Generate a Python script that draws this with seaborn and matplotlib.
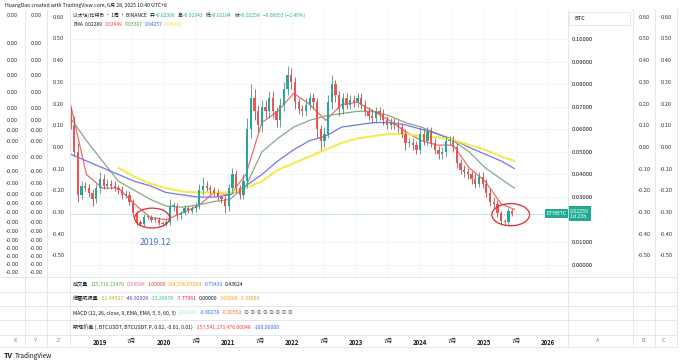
import numpy as np
import pandas as pd
import matplotlib.pyplot as plt
import matplotlib.dates as mdates
from matplotlib.patches import Ellipse, Rectangle
from matplotlib.lines import Line2D
from matplotlib.transforms import blended_transform_factory
import seaborn as sns

sns.set_theme(style="white")
plt.rcParams["font.family"] = ["Noto Sans CJK SC", "DejaVu Sans"]

# ---- data (ETH/BTC, weekly chart, resampled to 3-week candles) ----
candle_start = "2018-07-16"
first_open = 0.066
closes = [
    0.062, 0.050, 0.031, 0.035, 0.034, 0.032, 0.029, 0.034, 0.038, 0.035,
    0.036, 0.035, 0.034, 0.033, 0.031, 0.031, 0.028, 0.023, 0.019, 0.018,
    0.021, 0.021, 0.020, 0.020, 0.0185, 0.018, 0.019, 0.026, 0.026, 0.022,
    0.023, 0.025, 0.024, 0.025, 0.026, 0.033, 0.035, 0.034, 0.033, 0.032,
    0.030, 0.029, 0.026, 0.034, 0.040, 0.034, 0.031, 0.037, 0.060, 0.074,
    0.068, 0.062, 0.070, 0.068, 0.074, 0.068, 0.064, 0.071, 0.078, 0.084,
    0.081, 0.072, 0.069, 0.068, 0.071, 0.074, 0.072, 0.060, 0.055, 0.058,
    0.072, 0.080, 0.075, 0.069, 0.074, 0.071, 0.073, 0.072, 0.074, 0.071,
    0.068, 0.066, 0.065, 0.068, 0.067, 0.064, 0.062, 0.063, 0.062, 0.061,
    0.058, 0.054, 0.054, 0.053, 0.051, 0.058, 0.055, 0.059, 0.054, 0.051,
    0.049, 0.050, 0.055, 0.055, 0.052, 0.045, 0.042, 0.041, 0.040, 0.038,
    0.036, 0.039, 0.036, 0.032, 0.028, 0.027, 0.023, 0.0195, 0.0188, 0.0238,
    0.02259,
]
upper_wick = [
    0.004, 0.004, 0.004, 0.002, 0.0015, 0.002, 0.0015, 0.002, 0.003, 0.002,
    0.002, 0.0015, 0.002, 0.0015, 0.002, 0.002, 0.0015, 0.001, 0.001, 0.001,
    0.0015, 0.001, 0.001, 0.001, 0.001, 0.001, 0.0015, 0.003, 0.002, 0.0015,
    0.001, 0.0015, 0.001, 0.001, 0.002, 0.003, 0.004, 0.002, 0.0015, 0.0015,
    0.0015, 0.001, 0.0015, 0.002, 0.003, 0.002, 0.0015, 0.003, 0.005, 0.006,
    0.004, 0.003, 0.003, 0.003, 0.003, 0.003, 0.002, 0.003, 0.003, 0.004,
    0.003, 0.002, 0.002, 0.002, 0.003, 0.002, 0.002, 0.002, 0.002, 0.003,
    0.003, 0.004, 0.002, 0.002, 0.002, 0.002, 0.002, 0.002, 0.002, 0.002,
    0.002, 0.002, 0.003, 0.002, 0.002, 0.002, 0.002, 0.002, 0.002, 0.002,
    0.002, 0.002, 0.002, 0.002, 0.002, 0.003, 0.002, 0.002, 0.002, 0.002,
    0.0015, 0.002, 0.002, 0.002, 0.002, 0.002, 0.002, 0.002, 0.002, 0.0015,
    0.002, 0.002, 0.002, 0.002, 0.002, 0.002, 0.0015, 0.001, 0.001, 0.0015,
    0.001,
]
lower_wick = [
    0.002, 0.002, 0.003, 0.002, 0.0015, 0.002, 0.003, 0.0015, 0.002, 0.0015,
    0.0015, 0.0015, 0.0015, 0.0015, 0.002, 0.0015, 0.0015, 0.002, 0.0015, 0.001,
    0.001, 0.001, 0.001, 0.001, 0.001, 0.001, 0.001, 0.0015, 0.002, 0.002,
    0.0015, 0.001, 0.001, 0.001, 0.0015, 0.0015, 0.002, 0.0015, 0.0015, 0.0015,
    0.0015, 0.0015, 0.003, 0.002, 0.002, 0.002, 0.002, 0.002, 0.003, 0.004,
    0.004, 0.003, 0.003, 0.003, 0.003, 0.003, 0.003, 0.003, 0.003, 0.003,
    0.003, 0.003, 0.002, 0.002, 0.002, 0.002, 0.003, 0.004, 0.004, 0.003,
    0.002, 0.003, 0.003, 0.003, 0.002, 0.002, 0.002, 0.002, 0.002, 0.002,
    0.002, 0.002, 0.002, 0.002, 0.003, 0.002, 0.002, 0.002, 0.002, 0.002,
    0.002, 0.003, 0.002, 0.002, 0.002, 0.002, 0.002, 0.002, 0.002, 0.002,
    0.002, 0.002, 0.002, 0.002, 0.002, 0.002, 0.002, 0.002, 0.002, 0.002,
    0.002, 0.0015, 0.002, 0.002, 0.002, 0.002, 0.002, 0.0015, 0.001, 0.001,
    0.001,
]

# EMA lines, sampled every 13 weeks plus the last bar
ema_start = "2018-07-16"
ema_end = "2025-06-23"
ema20 = [0.071, 0.040, 0.034, 0.034, 0.027, 0.021, 0.020, 0.023, 0.026, 0.032,
         0.031, 0.040, 0.063, 0.068, 0.076, 0.071, 0.064, 0.071, 0.072, 0.068,
         0.064, 0.059, 0.055, 0.053, 0.053, 0.043, 0.037, 0.027, 0.0245]
ema50 = [0.065, 0.055, 0.046, 0.037, 0.033, 0.029, 0.026, 0.0255, 0.0265, 0.028,
         0.029, 0.035, 0.050, 0.056, 0.061, 0.064, 0.066, 0.067, 0.068, 0.068,
         0.066, 0.063, 0.061, 0.058, 0.055, 0.050, 0.043, 0.038, 0.0339]
ema100 = [0.049, 0.046, 0.043, 0.040, 0.037, 0.035, 0.032, 0.031, 0.030, 0.030,
          0.031, 0.035, 0.040, 0.046, 0.051, 0.055, 0.057, 0.061, 0.062, 0.063,
          0.063, 0.062, 0.060, 0.058, 0.0555, 0.052, 0.049, 0.046, 0.0426]
ema200 = [np.nan, np.nan, np.nan, 0.043, 0.039, 0.036, 0.034, 0.0325, 0.032, 0.032,
          0.032, 0.034, 0.037, 0.042, 0.045, 0.048, 0.051, 0.054, 0.056, 0.057,
          0.058, 0.058, 0.057, 0.0565, 0.0555, 0.053, 0.051, 0.048, 0.046]

last_price = 0.02259
btc_ticks = [0.00, 0.01, 0.03, 0.04, 0.05, 0.06, 0.07, 0.08, 0.09, 0.10]
pct_ticks = [0.60, 0.50, 0.40, 0.30, 0.20, 0.10, 0.00, -0.10, -0.20, -0.30, -0.40, -0.50]
left_tick_values = [0.1102, 0.0982, 0.0907, 0.0840, 0.0765, 0.0694, 0.0641, 0.0597,
                    0.0548, 0.0477, 0.0415, 0.0362, 0.0313, 0.0273, 0.0233, 0.0189,
                    0.0149, 0.0109, 0.0074, 0.0039, 0.0003, -0.0032]
left_tick_labels = ["0.00"] * 7 + ["-0.00"] * 15
x_tick_dates = ["2019-01-01", "2019-07-01", "2020-01-01", "2020-07-01", "2021-01-01",
                "2021-07-01", "2022-01-01", "2022-07-01", "2023-01-01", "2023-07-01",
                "2024-01-01", "2024-07-01", "2025-01-01", "2025-07-01", "2026-01-01"]
x_tick_labels = ["2019", "7月", "2020", "7月", "2021", "7月", "2022", "7月",
                 "2023", "7月", "2024", "7月", "2025", "7月", "2026"]

# ---- layout helpers (pixel boxes on a 680x362 canvas) ----
W, H = 680, 362
DARK = "#131722"
GRID = "#f0f3fa"
SEP = "#e0e3eb"
TEAL = "#22ab94"
UP, DOWN = "#26a69a", "#ef5350"


def box(x0, y0, x1, y1):
    return [x0 / W, 1 - y1 / H, (x1 - x0) / W, (y1 - y0) / H]


fig = plt.figure(figsize=(W / 100, H / 100), dpi=100)
fig.patch.set_facecolor("white")

xlim = (mdates.datestr2num("2018-07-13"), mdates.datestr2num("2026-04-24"))
ylim = (-0.0054, 0.1133)
pct_lim = (-0.597, 0.638)
tick_x = mdates.datestr2num(x_tick_dates)

# ---- main pane ----
ax = fig.add_axes(box(70, 9, 568, 277))
ax.set_xlim(*xlim)
ax.set_ylim(*ylim)
for s in ax.spines.values():
    s.set_visible(False)
ax.set_xticks(tick_x)
ax.set_xticklabels([])
ax.set_yticks(btc_ticks)
ax.yaxis.tick_right()
ax.yaxis.set_major_formatter(plt.FormatStrFormatter("%.5f"))
ax.tick_params(axis="y", length=0, pad=3, labelsize=4.3, labelcolor=DARK)
ax.tick_params(axis="x", length=0)
ax.grid(True, color=GRID, lw=0.6)
ax.set_axisbelow(True)

dates = pd.date_range(candle_start, periods=len(closes), freq="21D")
cdf = pd.DataFrame({"x": mdates.date2num(dates.to_pydatetime()), "close": closes})
cdf["open"] = [first_open] + closes[:-1]
cdf["top"] = cdf[["open", "close"]].max(axis=1)
cdf["bot"] = cdf[["open", "close"]].min(axis=1)
cdf["high"] = cdf["top"] + upper_wick
cdf["low"] = cdf["bot"] - lower_wick
up = cdf["close"] >= cdf["open"]
ax.vlines(cdf["x"], cdf["low"], cdf["high"], colors=np.where(up, "#4f8f86", "#9a5a5a"),
          lw=0.6, zorder=3)
ax.bar(cdf["x"], (cdf["top"] - cdf["bot"]).clip(lower=0.0004), bottom=cdf["bot"], width=13,
       color=np.where(up, UP, DOWN), lw=0, zorder=4)

ema_dates = list(pd.date_range(ema_start, periods=28, freq="91D")) + [pd.Timestamp(ema_end)]
ema_df = pd.DataFrame({"x": mdates.date2num([d.to_pydatetime() for d in ema_dates]),
                       "EMA 20": ema20, "EMA 50": ema50, "EMA 100": ema100, "EMA 200": ema200})
ema_long = ema_df.melt(id_vars="x", var_name="ema", value_name="value").dropna()
sns.lineplot(data=ema_long, x="x", y="value", hue="ema", size="ema",
             palette={"EMA 20": "#f06a6a", "EMA 50": "#86a886", "EMA 100": "#7376e6", "EMA 200": "#f3ea52"},
             sizes={"EMA 20": 0.9, "EMA 50": 0.9, "EMA 100": 0.9, "EMA 200": 1.5},
             estimator=None, sort=False, legend=False, ax=ax, zorder=2)
ax.set_xlabel("")
ax.set_ylabel("")

ax.axhline(last_price, color="#8fd6cc", lw=0.6, ls=(0, (1.5, 1)), zorder=1)
bt = blended_transform_factory(ax.transAxes, ax.transData)
ax.text(0.997, last_price, "ETHBTC", transform=bt, ha="right", va="center", fontsize=3.8,
        color="white", zorder=6, bbox=dict(boxstyle="square,pad=0.35", fc=TEAL, ec="none"))
ax.text(1.004, last_price, "0.02259\n1d 23h", transform=bt, ha="left", va="center", fontsize=3.8,
        color="white", linespacing=1.1, zorder=6, clip_on=False,
        bbox=dict(boxstyle="square,pad=0.4", fc=TEAL, ec="none"))

# hand-drawn style marks
ax.add_patch(Ellipse((mdates.datestr2num("2019-10-25"), 0.0207), 200, 0.0088,
                     fill=False, ec="#e0282e", lw=0.9, zorder=5))
ax.add_patch(Ellipse((mdates.datestr2num("2025-06-01"), 0.0222), 215, 0.0098,
                     fill=False, ec="#e0282e", lw=0.9, zorder=5))
ax.text(mdates.datestr2num("2019-11-10"), 0.0100, "2019.12", ha="center", va="center",
        fontsize=6.3, color="#3d6fd6", zorder=6)

# ---- side columns ----
def side_col(x0, x1, lim):
    c = fig.add_axes(box(x0, 9, x1, 277))
    c.set_xlim(0, 1)
    c.set_ylim(*lim)
    c.axis("off")
    return c, blended_transform_factory(c.transAxes, c.transData)


for x0, x1 in [(0, 25), (25, 47)]:
    c, tr = side_col(x0, x1, ylim)
    for v, lab in zip(left_tick_values, left_tick_labels):
        c.text(0.5, v, lab, transform=tr, ha="center", va="center", fontsize=4.1, color="#333333")

for x0, x1 in [(47, 70), (633, 655), (655, 677)]:
    c, tr = side_col(x0, x1, pct_lim)
    for v in pct_ticks:
        c.text(0.5, v, f"{v:.2f}", transform=tr, ha="center", va="center", fontsize=4.1, color="#333333")

fig.add_artist(Rectangle((569 / W, 1 - 25 / H), 61 / W, 13 / H, transform=fig.transFigure,
                         fc="white", ec=SEP, lw=0.6))
fig.text(574 / W, 1 - 18.5 / H, "BTC", fontsize=4.1, color=DARK, va="center")

# ---- indicator panes ----
rows = [(277, 292), (292, 306), (306, 320), (320, 335)]
panes = []
for y0, y1 in rows:
    p = fig.add_axes(box(70, y0, 568, y1))
    p.patch.set_alpha(0)
    p.set_xlim(*xlim)
    p.set_yticks([])
    p.set_xticks(tick_x)
    p.set_xticklabels([])
    p.tick_params(length=0)
    for s in p.spines.values():
        s.set_visible(False)
    panes.append(p)

bottom = panes[-1]
bottom.set_xticklabels(x_tick_labels)
bottom.tick_params(axis="x", length=0, pad=3, labelsize=4.3, labelcolor=DARK)
for lab in bottom.get_xticklabels():
    if "月" not in lab.get_text():
        lab.set_fontweight("bold")


def colored_row(x, y, pieces, size=3.7):
    txt = fig.text(x / W, 1 - y / H, pieces[0][0], color=pieces[0][1], fontsize=size, va="center")
    host = fig.axes[-1]
    for s, col, gap in pieces[1:]:
        txt = host.annotate(s, xy=(1, 0.5), xycoords=txt, xytext=(gap, 0), textcoords="offset points",
                            va="center", ha="left", color=col, fontsize=size, annotation_clip=False)


colored_row(73, 15.5, [("以太坊/比特币 · 1周 · BINANCE", DARK), ("开", DARK, 2), ("=0.02306", TEAL, 0),
                       ("高", DARK, 2), ("=0.02343", TEAL, 0), ("低", DARK, 2), ("=0.02194", TEAL, 0),
                       ("收", DARK, 2), ("=0.02259", TEAL, 0), ("−0.00053 (−2.40%)", TEAL, 2)], size=3.5)
colored_row(73, 24.5, [("EMA", DARK), ("0.02289", DARK, 1.5), ("0.02449", "#f23645", 1.5),
                       ("0.03387", "#43a047", 1.5), ("0.04257", "#3d5afe", 1.5), ("0.04602", "#f2e33a", 1.5)],
            size=3.5)
colored_row(73, 284.5, [("成交量", DARK), ("125,710.22470", "#4caf50", 1.5), ("0.53596", "#f06292", 1.5),
                        ("1.00000", "#f23645", 1.5), ("214,550.07204", "#ff9800", 1.5),
                        ("6.75431", "#2962ff", 1.5), ("0.43624", DARK, 1.5)])
colored_row(73, 299, [("维霍威振量", DARK), ("-51.44527", "#c9a227", 1.5), ("-46.92929", "#5e35b1", 1.5),
                      ("-33.29678", "#26c6a6", 1.5), ("-7.77061", "#e91e63", 1.5), ("0.00000", DARK, 1.5),
                      ("2.65000", "#ff9800", 1.5), ("-3.33000", "#d4a017", 1.5)])
colored_row(73, 313, [("MACD (12, 26, close, 9, EMA, EMA, 5, 5, 60, 5)", DARK), ("0.00284", "#b2dfdb", 2),
                      ("-0.00278", "#2962ff", 1.5), ("-0.00562", "#ff6d00", 1.5),
                      ("∅ ∅ ∅ ∅ ∅ ∅ ∅ ∅", "#555555", 1.5)])
colored_row(73, 327.5, [("期现价差 (, BTCUSDT, BTCUSDT.P, 0.02, -0.01, 0.01)", DARK),
                        ("-157,541,173,476.00048", "#f23645", 2), ("-100.00000", "#2962ff", 1.5)])

fig.text(5 / W, 1 - 5 / H, "HuangDao created with TradingView.com, 6月 28, 2025 10:40 UTC+8",
         fontsize=3.7, color=DARK, va="center")

# axis corner letters
for x, s in [(15, "X"), (35, "Y"), (58, "Z"), (598, "A"), (643, "B"), (663, "C")]:
    fig.text(x / W, 1 - 341 / H, s, fontsize=4, color="#787b86", ha="center", va="center")

# separators
for x in [25, 47, 70, 568, 633, 655, 677]:
    fig.add_artist(Line2D([x / W, x / W], [1 - 9 / H, 1 - 347 / H], transform=fig.transFigure,
                          color=SEP, lw=0.6))
for y in [277, 292, 306, 320, 335, 347]:
    fig.add_artist(Line2D([0, 677 / W], [1 - y / H, 1 - y / H], transform=fig.transFigure,
                          color=SEP, lw=0.6))

# TradingView logo
fig.text(4 / W, 1 - 355.5 / H, "TV", fontsize=5.2, fontweight="bold", color=DARK, va="center")
fig.text(15 / W, 1 - 355.5 / H, "TradingView", fontsize=4.6, color=DARK, va="center")

fig.savefig("out.png", dpi=100)
